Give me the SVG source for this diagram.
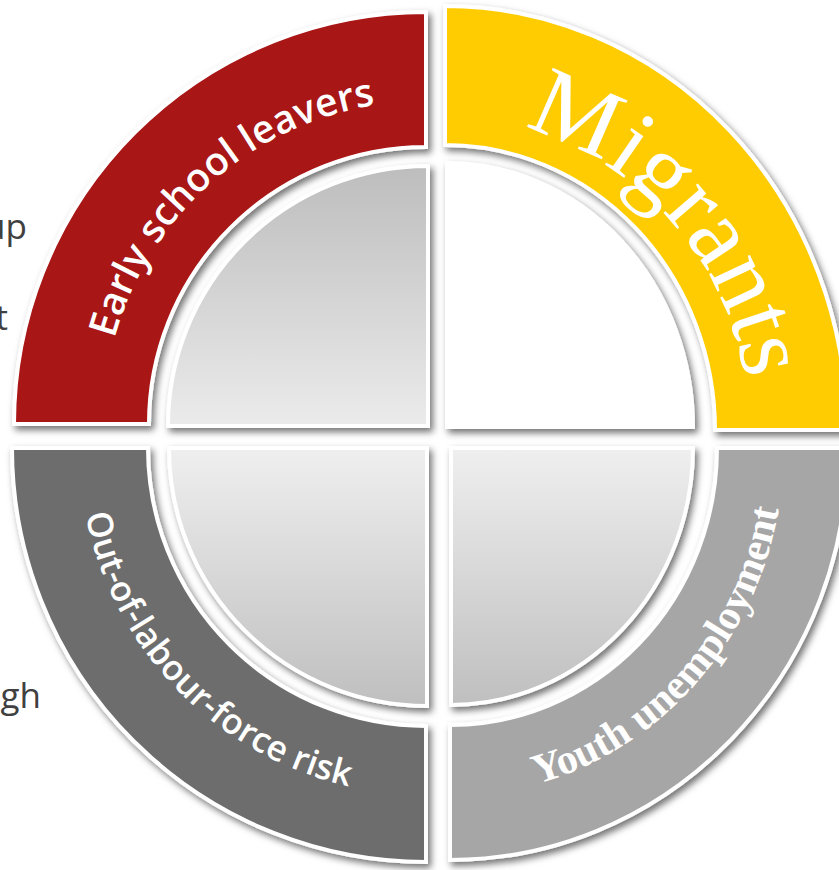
<svg xmlns="http://www.w3.org/2000/svg" width="839" height="870" viewBox="0 0 839 870">
<style>
.sh{filter:url(#ds);stroke:#fff;stroke-width:4;stroke-linejoin:miter}
.lbl{fill:#fff}
.sans{font-family:"Open Sans","Noto Sans",sans-serif}
.serif{font-family:"Liberation Serif","Times New Roman",serif}
.side{font-family:"Open Sans","Noto Sans",sans-serif;font-size:35px;fill:#404040;text-anchor:end}
</style>
<defs>
<filter id="ds" x="-10%" y="-10%" width="125%" height="125%">
<feDropShadow dx="3" dy="4" stdDeviation="3.5" flood-color="#000" flood-opacity="0.55"/>
</filter>
<linearGradient id="gUp" x1="0" y1="0" x2="0" y2="1">
<stop offset="0" stop-color="#bdbdbd"/><stop offset="1" stop-color="#ebebeb"/>
</linearGradient>
<linearGradient id="gDown" x1="0" y1="0" x2="0" y2="1">
<stop offset="0" stop-color="#efefef"/><stop offset="1" stop-color="#bfbfbf"/>
</linearGradient>
<path id="pEarly" d="M 103 424 A 323 323 0 0 1 426 101"/>
<path id="pMig" d="M 445 118 A 304 312 0 0 1 749 430"/>
<path id="pOut" d="M 79 448 A 347 347 0 0 0 426 795"/>
<path id="pYouth" d="M 450 796 A 334 348 0 0 0 784 448"/>
</defs>
<rect width="839" height="870" fill="#fff"/>
<g id="side-text">
<text class="side" x="27" y="239">up</text>
<text class="side" x="8" y="330">t</text>
<text class="side" x="41" y="708">gh</text>
</g>
<g id="connectors"/>
<g id="early-school-leavers">
<path class="sh" fill="#a81214" d="M 14 424 A 412 412 0 0 1 426 12 L 426 147 A 277 277 0 0 0 149 424 Z"/>
<path class="sh" fill="url(#gUp)" d="M 168 426 A 260 260 0 0 1 428 166 L 428 426 Z"/>
<text class="lbl sans" font-size="39" font-weight="600"><textPath href="#pEarly" startOffset="53.5%" text-anchor="middle">Early school leavers</textPath></text>
</g>
<g id="migrants">
<path class="sh" fill="#fecc00" d="M 445 6 A 402 424 0 0 1 847 430 L 715 430 A 270 285 0 0 0 445 145 Z"/>
<path class="sh" fill="#ffffff" d="M 447 163 A 246 264 0 0 1 693 427 L 447 427 Z"/>
<text class="lbl serif" font-size="98"><textPath href="#pMig" startOffset="53%" text-anchor="middle">Migrants</textPath></text>
</g>
<g id="out-of-labour-force-risk">
<path class="sh" fill="#6d6d6d" d="M 12 448 L 148 448 A 278 278 0 0 0 426 726 L 426 862 A 414 414 0 0 1 12 448 Z"/>
<path class="sh" fill="url(#gDown)" d="M 169 448 L 427 448 L 427 706 A 258 258 0 0 1 169 448 Z"/>
<text class="lbl sans" font-size="35" font-weight="600"><textPath href="#pOut" startOffset="49%" text-anchor="middle">Out-of-labour-force risk</textPath></text>
</g>
<g id="youth-unemployment">
<path class="sh" fill="#a6a6a6" d="M 717 448 L 848 448 A 398 412 0 0 1 450 860 L 450 725 A 267 277 0 0 0 717 448 Z"/>
<path class="sh" fill="url(#gDown)" d="M 451 448 L 693 448 A 242 257 0 0 1 451 705 Z"/>
<text class="lbl serif" font-size="42" font-weight="bold"><textPath href="#pYouth" startOffset="52.5%" text-anchor="middle">Youth unemployment</textPath></text>
</g>
</svg>
